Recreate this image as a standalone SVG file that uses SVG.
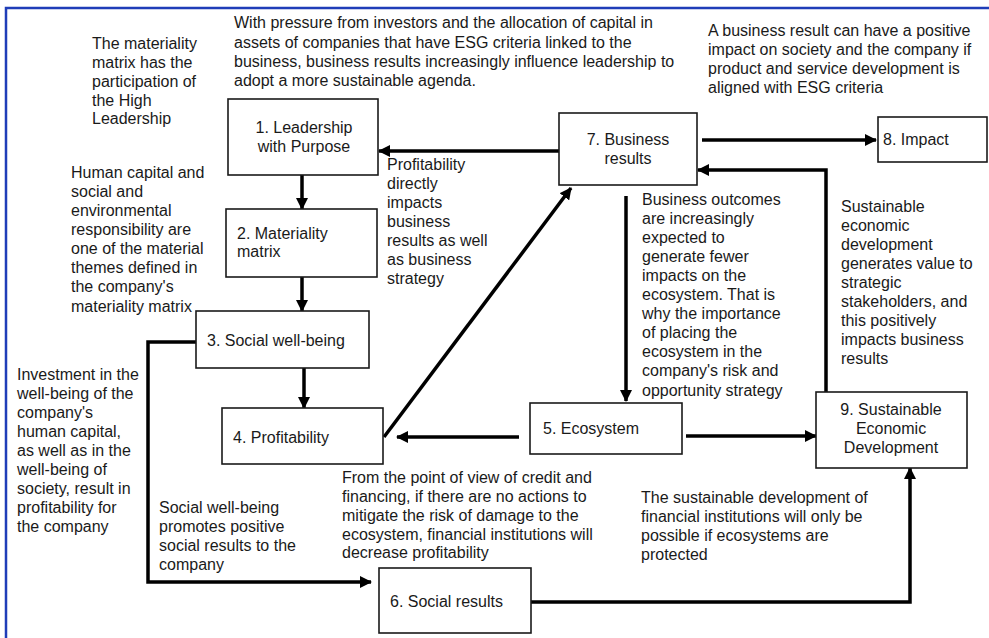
<svg xmlns="http://www.w3.org/2000/svg" width="989" height="638" viewBox="0 0 989 638">
<defs>
<style>
text{font-family:"Liberation Sans",Arial,sans-serif;font-size:16px;fill:#1a1a1a}
.box{fill:#fff;stroke:#1a1a1a;stroke-width:1.6}
.c{text-anchor:middle}
.arr{fill:none;stroke:#000;stroke-width:3.5;marker-end:url(#ah)}
.ln{fill:none;stroke:#000;stroke-width:3.5}
</style>
<marker id="ah" markerUnits="userSpaceOnUse" markerWidth="12" markerHeight="12" refX="11" refY="6" orient="auto">
<path d="M0,0 L12,6 L0,12 z" fill="#000"/>
</marker>
</defs>
<rect width="989" height="638" fill="#fff"/>
<path d="M6,640 V8 H992" fill="none" stroke="#1f3db8" stroke-width="2.5"/>

<g id="connectors">
<path class="arr" d="M559,151 H379"/>
<path class="arr" d="M302,175 V209"/>
<path class="arr" d="M302,277 V311"/>
<path class="arr" d="M304,368 V408"/>
<path class="arr" d="M702,140 H876"/>
<path class="arr" d="M826,392 V170 H698"/>
<path class="arr" d="M626,196 V401"/>
<path class="arr" d="M519,437 H397"/>
<path class="arr" d="M686,436 H816"/>
<path class="arr" d="M384,437 L571,188"/>
<path class="arr" d="M196,342 H148 V582 H371"/>
<path class="arr" d="M531,602 H910 V468"/>
</g>

<g id="node1"><rect class="box" x="228" y="99" width="150" height="76"/>
<text class="c" x="304" y="133">1. Leadership</text><text class="c" x="304" y="152">with Purpose</text></g>
<g id="node2"><rect class="box" x="226" y="209" width="151" height="68"/>
<text x="237" y="239">2. Materiality</text><text x="237" y="257">matrix</text></g>
<g id="node3"><rect class="box" x="196" y="311" width="173" height="57"/>
<text x="207" y="346">3. Social well-being</text></g>
<g id="node4"><rect class="box" x="222" y="408" width="161" height="56"/>
<text x="233" y="443">4. Profitability</text></g>
<g id="node5"><rect class="box" x="530" y="403" width="152" height="51"/>
<text x="543" y="434">5. Ecosystem</text></g>
<g id="node6"><rect class="box" x="379" y="568" width="152" height="65"/>
<text x="390" y="607">6. Social results</text></g>
<g id="node7"><rect class="box" x="559" y="113" width="138" height="72"/>
<text class="c" x="628" y="145">7. Business</text><text class="c" x="628" y="164">results</text></g>
<g id="node8"><rect class="box" x="878" y="117" width="109" height="45"/>
<text x="883" y="145">8. Impact</text></g>
<g id="node9"><rect class="box" x="816" y="392" width="151" height="76"/>
<text class="c" x="891" y="415">9. Sustainable</text><text class="c" x="891" y="434">Economic</text><text class="c" x="891" y="453">Development</text></g>

<g id="labels">
<text x="92" y="49">The materiality</text>
<text x="92" y="68">matrix has the</text>
<text x="92" y="87">participation of</text>
<text x="92" y="106">the High</text>
<text x="92" y="124">Leadership</text>

<text x="234" y="28">With pressure from investors and the allocation of capital in</text>
<text x="234" y="48">assets of companies that have ESG criteria linked to the</text>
<text x="234" y="67">business, business results increasingly influence leadership to</text>
<text x="234" y="86">adopt a more sustainable agenda.</text>

<text x="708" y="36">A business result can have a positive</text>
<text x="708" y="55">impact on society and the company if</text>
<text x="708" y="74">product and service development is</text>
<text x="708" y="93">aligned with ESG criteria</text>

<text x="71" y="178">Human  capital and</text>
<text x="71" y="197">social and</text>
<text x="71" y="216">environmental</text>
<text x="71" y="235">responsibility are</text>
<text x="71" y="254">one of the material</text>
<text x="71" y="273">themes defined in</text>
<text x="71" y="292">the company's</text>
<text x="71" y="312">materiality matrix</text>

<text x="17" y="380">Investment in the</text>
<text x="17" y="399">well-being of the</text>
<text x="17" y="418">company's</text>
<text x="17" y="437">human  capital,</text>
<text x="17" y="456">as well as in the</text>
<text x="17" y="475">well-being of</text>
<text x="17" y="494">society, result in</text>
<text x="17" y="513">profitability for</text>
<text x="17" y="532">the company</text>

<text x="387" y="170">Profitability</text>
<text x="387" y="189">directly</text>
<text x="387" y="208">impacts</text>
<text x="387" y="227">business</text>
<text x="387" y="246">results as well</text>
<text x="387" y="265">as business</text>
<text x="387" y="284">strategy</text>

<text x="642" y="205">Business outcomes</text>
<text x="642" y="224">are increasingly</text>
<text x="642" y="243">expected to</text>
<text x="642" y="262">generate fewer</text>
<text x="642" y="281">impacts on the</text>
<text x="642" y="300">ecosystem. That is</text>
<text x="642" y="319">why the importance</text>
<text x="642" y="338">of placing the</text>
<text x="642" y="357">ecosystem in the</text>
<text x="642" y="376">company's risk and</text>
<text x="642" y="396">opportunity strategy</text>

<text x="841" y="212">Sustainable</text>
<text x="841" y="231">economic</text>
<text x="841" y="250">development</text>
<text x="841" y="269">generates value to</text>
<text x="841" y="288">strategic</text>
<text x="841" y="307">stakeholders, and</text>
<text x="841" y="326">this positively</text>
<text x="841" y="345">impacts business</text>
<text x="841" y="364">results</text>

<text x="342" y="483">From the point of view of credit and</text>
<text x="342" y="502">financing, if there are no actions to</text>
<text x="342" y="521">mitigate the risk of damage to the</text>
<text x="342" y="540">ecosystem, financial institutions will</text>
<text x="342" y="558">decrease profitability</text>

<text x="159" y="513">Social well-being</text>
<text x="159" y="532">promotes positive</text>
<text x="159" y="551">social results to the</text>
<text x="159" y="570">company</text>

<text x="641" y="503">The sustainable development of</text>
<text x="641" y="522">financial institutions will only be</text>
<text x="641" y="541">possible if ecosystems are</text>
<text x="641" y="560">protected</text>
</g>
</svg>
